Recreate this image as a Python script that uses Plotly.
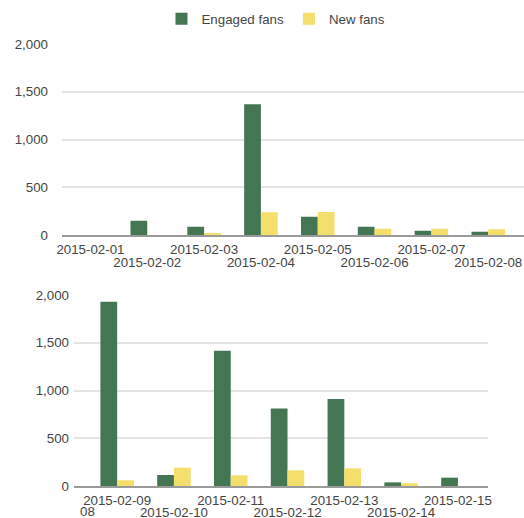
import plotly.graph_objects as go

# Week 1 and week 2 of February 2015
dates_w1 = ["2015-02-01", "2015-02-02", "2015-02-03", "2015-02-04",
            "2015-02-05", "2015-02-06", "2015-02-07", "2015-02-08"]
engaged_w1 = [0, 150, 87, 1370, 192, 87, 45, 35]
new_w1 = [0, 0, 15, 238, 240, 66, 66, 60]

dates_w2 = ["2015-02-09", "2015-02-10", "2015-02-11", "2015-02-12",
            "2015-02-13", "2015-02-14", "2015-02-15"]
engaged_w2 = [1930, 115, 1416, 811, 912, 38, 87]
new_w2 = [60, 192, 112, 164, 185, 28, 0]

y_ticks = [0, 500, 1000, 1500, 2000]

GREEN = "#457654"
YELLOW = "#f4de6c"
TEXT = "#444444"
FONT = "Liberation Sans, Arial, sans-serif"
FS = 13.3

W, H = 524, 518

fig = go.Figure()

for dates, eng, new, xa, ya, show in [
    (dates_w1, engaged_w1, new_w1, "x", "y", True),
    (dates_w2, engaged_w2, new_w2, "x2", "y2", False),
]:
    fig.add_trace(go.Bar(x=dates, y=eng, name="Engaged fans",
                         marker=dict(color=GREEN, line=dict(width=0)),
                         xaxis=xa, yaxis=ya, legendgroup="e", showlegend=show))
    fig.add_trace(go.Bar(x=dates, y=new, name="New fans",
                         marker=dict(color=YELLOW, line=dict(width=0)),
                         xaxis=xa, yaxis=ya, legendgroup="n", showlegend=show))

# empty traces so the second-row label axes get drawn
for xa, ya in [("x3", "y"), ("x4", "y2")]:
    fig.add_trace(go.Scatter(x=[None], y=[None], xaxis=xa, yaxis=ya,
                             mode="markers", showlegend=False, hoverinfo="skip"))

tickfont = dict(size=FS, color=TEXT, family=FONT)

xcommon = dict(showgrid=False, ticks="", tickangle=0, automargin=False,
               tickfont=tickfont, fixedrange=True, zeroline=False)
ycommon = dict(range=[0, 2000], tickvals=y_ticks, tickformat=",",
               showgrid=True, gridcolor="#e4e4e4", gridwidth=1.5,
               zeroline=False, ticks="", automargin=False,
               tickfont=tickfont, fixedrange=True)

range_w1 = [-0.5, 7.62]
range_w2 = [-0.76, 6.53]
dom_w1 = [62 / W, 523.5 / W]
dom_w2 = [74 / W, 488 / W]

# first row of date labels: every other day starting with the first
# second row (overlay axes x3 / x4): the remaining days, set lower
idx_w1 = list(range(len(dates_w1)))
idx_w2 = list(range(len(dates_w2)))

fig.update_layout(
    width=W, height=H,
    margin=dict(l=0, r=0, t=0, b=0),
    paper_bgcolor="white", plot_bgcolor="white",
    font=dict(family=FONT, size=FS, color=TEXT),
    barmode="group", bargap=0.41, bargroupgap=0.0,
    showlegend=True,
    legend=dict(orientation="h", x=276 / W, xanchor="center",
                y=1 - 19 / H, yanchor="middle",
                font=tickfont, itemwidth=30, traceorder="normal"),
    xaxis=dict(xcommon, type="category", domain=dom_w1, anchor="y",
               range=range_w1, showline=True, linecolor="#9a9a9a", linewidth=1.5,
               tickvals=dates_w1[0::2], ticktext=dates_w1[0::2],
               ticklabelstandoff=1),
    xaxis3=dict(xcommon, type="linear", overlaying="x", anchor="y", side="bottom",
                range=range_w1, showline=False,
                tickvals=idx_w1[1::2], ticktext=dates_w1[1::2],
                ticklabelstandoff=18),
    yaxis=dict(ycommon, domain=[1 - 235 / H, 1 - 44 / H], anchor="x",
               ticklabelstandoff=13),
    xaxis2=dict(xcommon, type="category", domain=dom_w2, anchor="y2",
                range=range_w2, showline=True, linecolor="#9a9a9a", linewidth=1.5,
                tickvals=dates_w2[0::2], ticktext=dates_w2[0::2],
                ticklabelstandoff=1),
    xaxis4=dict(xcommon, type="linear", overlaying="x2", anchor="y2", side="bottom",
                range=range_w2, showline=False,
                tickvals=idx_w2[1::2], ticktext=dates_w2[1::2],
                ticklabelstandoff=17),
    yaxis2=dict(ycommon, domain=[1 - 486 / H, 1 - 295 / H], anchor="x2",
                ticklabelstandoff=4),
)

# tail of the 2015-02-08 label that shows at the left edge of the second week
fig.add_annotation(text="08", xref="paper", yref="paper",
                   x=97 / W, xanchor="right", y=1 - 511 / H, yanchor="middle",
                   showarrow=False, font=tickfont)

fig.write_html("out.html")
